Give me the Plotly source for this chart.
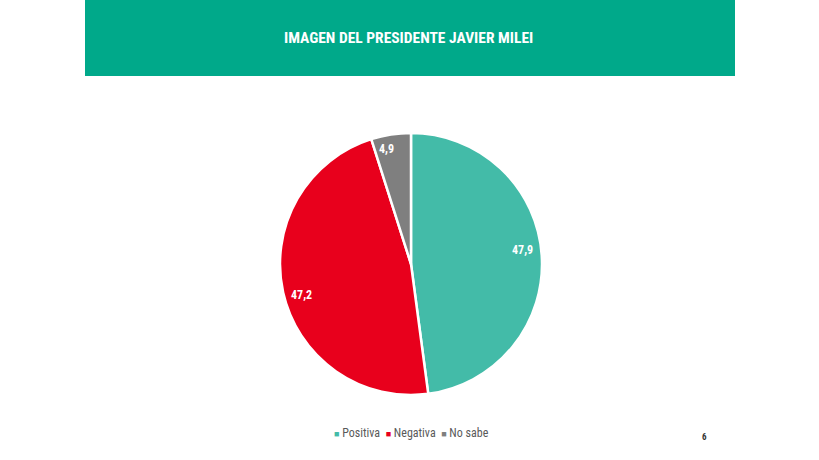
import math
import plotly.graph_objects as go

labels = ["Positiva", "Negativa", "No sabe"]
values = [47.9, 47.2, 4.9]
colors = ["#43BBA8", "#E8001C", "#7F7F7F"]
title_text = "IMAGEN DEL PRESIDENTE JAVIER MILEI"
page_no = "6"

W, H = 819, 460
cx, cy, r = 411, 264, 131
FONT = "Roboto Condensed, Liberation Sans, Arial"


def note(text, x, y, size, color):
    fig.add_annotation(text=text, xref="paper", yref="paper", x=x / W, y=1 - y / H,
                       xanchor="center", yanchor="middle", showarrow=False,
                       font=dict(family=FONT, size=size, color=color))


fig = go.Figure(go.Pie(
    labels=labels, values=values, sort=False, direction="clockwise", rotation=0,
    marker=dict(colors=colors, line=dict(color="white", width=2.5)),
    textinfo="none", showlegend=False,
    domain=dict(x=[(cx - r) / W, (cx + r) / W], y=[(H - cy - r) / H, (H - cy + r) / H]),
    hoverinfo="skip",
))

# data labels placed near the outer edge of each slice (Excel "best fit" style)
label_radius = [0.86, 0.87, 0.90]
angle_shift = -3.2
total = sum(values)
cum = 0.0
for v, rf in zip(values, label_radius):
    mid = (cum + v / 2) / total * 360 + angle_shift
    cum += v
    a = math.radians(mid)
    note("<b>" + f"{v:.1f}".replace(".", ",") + "</b>",
         cx + rf * r * math.sin(a), cy - rf * r * math.cos(a), 12, "white")

# header band and title
fig.add_shape(type="rect", xref="paper", yref="paper", x0=85 / W, x1=735 / W, y0=1 - 76 / H, y1=1,
              fillcolor="#00A98A", line=dict(width=0), layer="below")
note("<b>" + title_text + "</b>", 408, 37.5, 15.5, "white")

# legend
parts = [f"<span style='color:{col};font-size:9px'>■</span> {lab}" for lab, col in zip(labels, colors)]
note("\u00a0 ".join(parts), 411.5, 433, 12, "#595959")

note("<b>" + page_no + "</b>", 704.5, 437, 9, "#333333")

fig.update_layout(
    width=W, height=H, margin=dict(l=0, r=0, t=0, b=0),
    paper_bgcolor="white", plot_bgcolor="white",
    separators=",.",
)
fig.write_html("out.html")
